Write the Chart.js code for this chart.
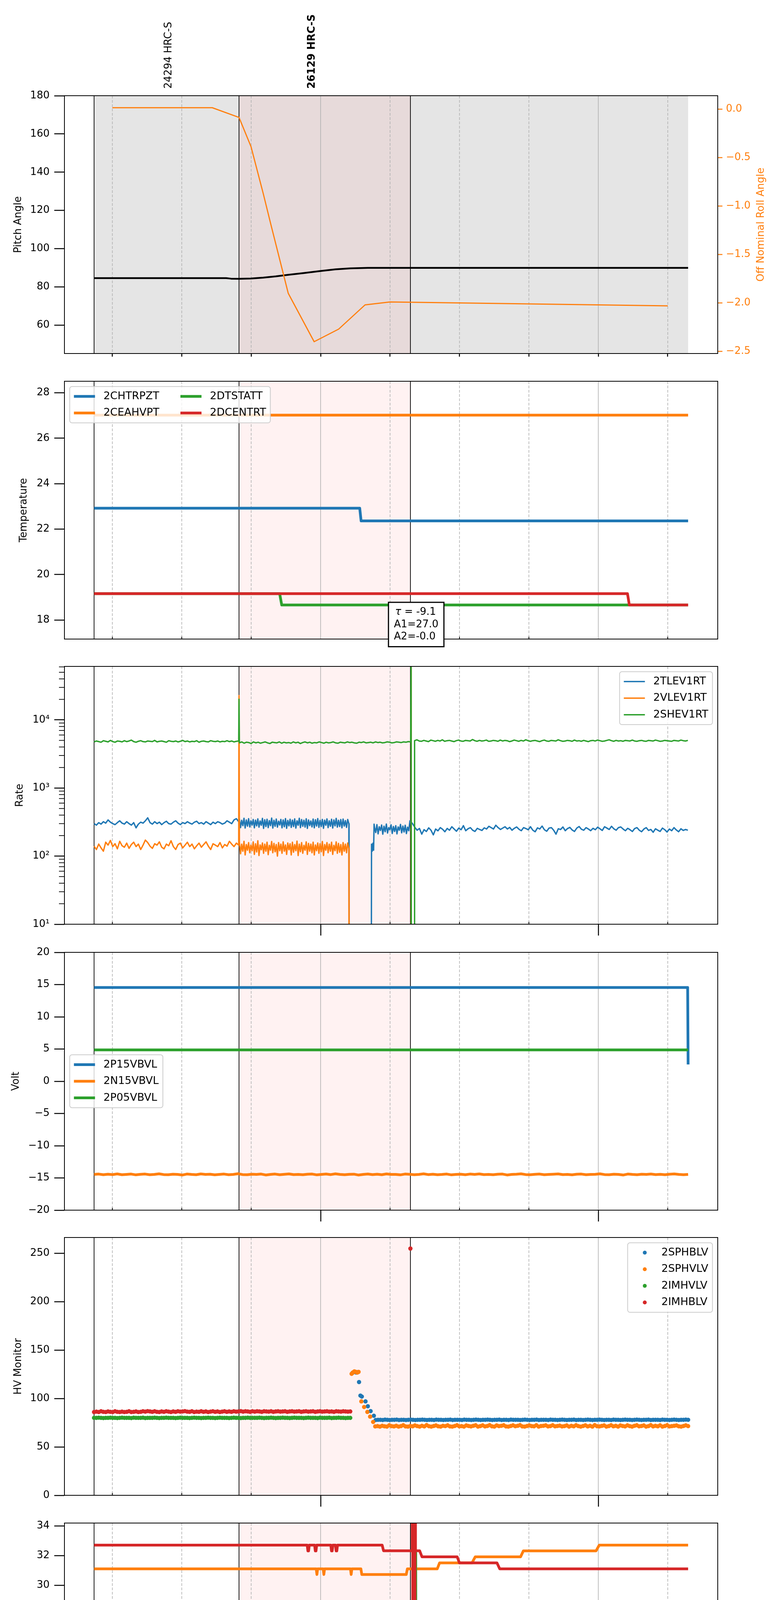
<!DOCTYPE html>
<html>
<head>
<meta charset="utf-8">
<title>HRC telemetry 2021-10-12</title>
<script src="https://cdn.jsdelivr.net/npm/chart.js@4.4.1/dist/chart.umd.min.js"></script>
<style>
  html, body { margin: 0; padding: 0; background: #fff; }
  #page { position: relative; width: 2000px; height: 5400px; overflow: hidden; background: #fff; }
  .panel { position: absolute; left: 0; width: 2000px; }
</style>
</head>
<body>
<div id="page"></div>
<script>
// Time axis: minutes after 17:00 UT on 2021-10-12 (DOY 285)
const xMin = 4.65;
const xMax = 145.8;
const tickMinutes = [15, 30, 45, 60, 75, 90, 105, 120, 135];
const obsidStarts = [11.05, 42.37, 79.4];
const obsidNames = ['24294 HRC-S', '26129 HRC-S'];
const obsidNameTimes = [27.2, 58.15];
const obsidNameBold = [false, true];
const grayWindow = [11.05, 139.4];
const pinkWindow = [42.37, 79.4];
const fitLines = ['τ = -9.1', 'A1=27.0', 'A2=-0.0'];

// ---- Panel 1: pitch / off nominal roll ----
const pitchTicks = [60, 80, 100, 120, 140, 160, 180];
const rollTicks = [0, -0.5, -1, -1.5, -2, -2.5];
const pitchTimes = [11.05, 39.6, 40.65, 42.37, 44.95, 47.6, 50.3, 53.0, 56.2, 60.0, 63.2, 66.4, 70.2, 139.4];
const pitchValues = [84.6, 84.6, 84.3, 84.25, 84.4, 84.85, 85.5, 86.3, 87.2, 88.3, 89.2, 89.7, 89.95, 89.95];
const rollTimes = [15.0, 36.6, 42.37, 44.95, 47.6, 49.25, 53.0, 58.6, 63.9, 69.6, 75.0, 135.0];
const rollValues = [0.015, 0.015, -0.085, -0.385, -0.87, -1.19, -1.9, -2.4, -2.27, -2.02, -1.99, -2.03];

// ---- Panel 2: temperatures ----
const tempTicks = [18, 20, 22, 24, 26, 28];
const chtrpztTimes = [11.05, 68.45, 68.75, 139.4];
const chtrpztValues = [22.92, 22.92, 22.36, 22.36];
const ceahvptTimes = [11.05, 139.4];
const ceahvptValues = [27.02, 27.02];
const dtstattTimes = [11.05, 51.15, 51.6, 139.4];
const dtstattValues = [19.16, 19.16, 18.66, 18.66];
const dcentrtTimes = [11.05, 126.3, 126.7, 139.4];
const dcentrtValues = [19.16, 19.16, 18.66, 18.66];

// ---- Panel 3: event rates (log) ----
const rateTicks = [10, 100, 1000, 10000];
const rateTickLabels = ['10\u00b9', '10\u00b2', '10\u00b3', '10\u2074'];
const tlevPre = [300, 285, 310, 295, 320, 305, 340, 315, 300, 290, 310, 330, 305, 295, 320, 300, 285, 310, 260, 295,
  315, 305, 330, 365, 310, 295, 320, 300, 315, 290, 310, 325, 300, 295, 315, 330, 305, 290, 310, 300,
  320, 305, 295, 315, 325, 300, 310, 295, 320, 305, 290, 315, 300, 320, 310, 295, 305, 330, 315, 300, 340, 355, 320];
const tlevDense = [350, 262, 335, 280, 360, 258, 340, 275, 355, 268, 330, 285, 345, 260, 338, 278, 352, 266, 328, 284,
  358, 255, 342, 272, 348, 262, 332, 280, 362, 258, 336, 274, 350, 266, 326, 286, 346, 260, 340, 270,
  356, 256, 334, 278, 348, 264, 338, 272, 352, 258, 330, 284, 360, 262, 344, 274, 336, 266, 354, 255,
  340, 280, 328, 268, 350, 260, 342, 276, 356, 264, 334, 272, 346, 256, 338, 284, 352, 262, 330, 274,
  348, 258, 340, 278, 358, 266, 336, 272, 344, 260, 350, 276, 332, 264, 346, 300];
const tlevGapTimes = [66.15, 70.95, 71.0, 71.15, 71.3, 71.45, 71.55];
const tlevGapValues = [1, 1, 150, 118, 155, 122, 295];
const tlevDense2 = [265, 222, 290, 212, 270, 238, 286, 210, 275, 228, 296, 218, 262, 244, 288, 215, 272, 230, 280, 212,
  268, 240, 292, 220, 276, 226, 284, 214, 266, 236, 330];
const tlevLate = [300, 265, 240, 255, 210, 245, 230, 260, 240, 205, 250, 235, 262, 248, 228, 255, 240, 270, 250, 232,
  258, 244, 280, 236, 252, 262, 240, 230, 256, 246, 238, 260, 250, 274, 262, 250, 284, 262, 246, 258,
  270, 250, 264, 240, 256, 268, 248, 236, 262, 254, 244, 270, 240, 228, 260, 250, 276, 244, 232, 258,
  262, 240, 210, 252, 246, 268, 236, 254, 264, 242, 230, 258, 272, 248, 240, 262, 250, 236, 256, 244,
  266, 252, 238, 270, 258, 246, 274, 252, 240, 262, 268, 250, 236, 256, 244, 230, 254, 262, 240, 228,
  250, 262, 238, 246, 224, 252, 240, 230, 258, 244, 226, 250, 236, 262, 242, 228, 252, 238, 246, 240];
const vlevPre = [140, 125, 150, 132, 118, 160, 145, 170, 138, 152, 128, 165, 142, 135, 155, 130, 148, 160, 138, 150,
  125, 145, 172, 158, 140, 130, 152, 145, 162, 135, 128, 150, 142, 168, 138, 125, 148, 155, 132, 145,
  160, 138, 150, 128, 142, 155, 135, 148, 162, 140, 125, 152, 145, 138, 158, 132, 148, 140, 165, 150, 138, 155, 145];
const vlevDense = [160, 108, 150, 118, 165, 104, 148, 122, 158, 112, 145, 120, 162, 106, 152, 115, 168, 102, 146, 124,
  156, 110, 150, 118, 160, 105, 144, 122, 164, 112, 154, 116, 148, 100, 158, 120, 150, 110, 162, 118,
  146, 106, 156, 124, 152, 104, 160, 114, 148, 120, 166, 102, 150, 116, 158, 110, 144, 122, 162, 106,
  154, 118, 150, 112, 160, 104, 146, 120, 156, 110, 152, 116, 164, 102, 148, 122, 158, 112, 150, 118,
  160, 106, 144, 120, 162, 110, 154, 114, 148, 104, 158, 118, 150, 112, 156, 130];
const vlevTailTimes = [66.15, 79.5, 79.55, 79.6, 139.4];
const vlevTailValues = [1, 1, 100000, 1, 1];
const shevPre = [4750, 4900, 4800, 4700, 4950, 4850, 4750, 5000, 4800, 4700, 4900, 4850, 4750, 4950, 4800, 4900, 5050, 4800, 4700, 4850,
  4950, 4800, 4750, 4900, 4850, 4800, 5000, 4750, 4850, 4900, 4800, 4700, 4950, 4850, 4800, 4900, 4750, 4850, 5000, 4800,
  4900, 4750, 4850, 4800, 4950, 4700, 4850, 4900, 4800, 4750, 4950, 4850, 4800, 4900, 4750, 4850, 4800, 4950, 4800, 4900, 4750, 4850, 4900];
const shevMid = [4600, 4750, 4550, 4700, 4650, 4500, 4750, 4600, 4700, 4550, 4650, 4750, 4600, 4500, 4700, 4650, 4600, 4750, 4550, 4700,
  4600, 4650, 4550, 4750, 4600, 4700, 4500, 4650, 4750, 4600, 4700, 4550, 4650, 4600, 4750, 4650, 4550, 4700, 4600, 4650,
  4750, 4600, 4550, 4700, 4650, 4600, 4750, 4650, 4700, 4600, 4550, 4700, 4650, 4750, 4600, 4650, 4700, 4600, 4750, 4650,
  4700, 4600, 4650, 4750, 4700, 4600, 4650, 4750, 4700, 4650, 4750, 4700, 4800, 4750];
const shevSpikeTimes = [42.37, 79.55, 79.6, 80.25];
const shevSpikeValues = [20100, 100000, 1, 1];
const shevLate = [4950, 5100, 4900, 4850, 5000, 4900, 4800, 5050, 4950, 4850, 5000, 4900, 5100, 4850, 4950, 5000, 4900, 4800, 4950, 5050,
  4900, 4850, 5000, 4950, 4900, 5150, 4950, 4850, 5000, 4900, 4950, 5050, 4850, 4900, 5000, 4950, 4850, 5050, 4900, 5000,
  4950, 4800, 4900, 5050, 4950, 4850, 5000, 4900, 5100, 4950, 4850, 4950, 5000, 4900, 4800, 4950, 5050, 4900, 4850, 5000,
  4950, 4900, 5100, 4950, 4850, 4900, 5000, 4950, 4850, 5050, 4900, 4950, 4850, 5000, 4900, 4800, 4950, 5000, 4900, 5050,
  4950, 4850, 4900, 5000, 5100, 4950, 4850, 5000, 4900, 4950, 4850, 5000, 4950, 4900, 5050, 4900, 4850, 4950, 5000, 4900,
  4850, 5000, 4950, 4900, 5050, 4950, 4850, 4900, 5000, 4950, 4900, 4850, 5000, 4950, 4900, 5050, 4950, 4900, 5000];

// ---- Panel 4: bus voltages ----
const voltTicks = [-20, -15, -10, -5, 0, 5, 10, 15, 20];
const p15Times = [11.05, 139.3, 139.4];
const p15Values = [14.54, 14.54, 2.6];
const n15Values = [-14.45, -14.4, -14.5, -14.42, -14.48, -14.38, -14.5, -14.45, -14.4, -14.52,
  -14.44, -14.4, -14.5, -14.46, -14.36, -14.48, -14.5, -14.42, -14.45, -14.55,
  -14.4, -14.46, -14.5, -14.38, -14.45, -14.42, -14.52, -14.46, -14.4, -14.5,
  -14.45, -14.35, -14.48, -14.5, -14.42, -14.45, -14.4, -14.54, -14.46, -14.4,
  -14.5, -14.44, -14.38, -14.48, -14.45, -14.5, -14.42, -14.4, -14.52, -14.46,
  -14.4, -14.48, -14.36, -14.45, -14.5, -14.44, -14.42, -14.55, -14.45, -14.4,
  -14.48, -14.42, -14.5, -14.38, -14.46, -14.45, -14.52, -14.4, -14.44, -14.5,
  -14.45, -14.36, -14.48, -14.42, -14.5, -14.46, -14.4, -14.52, -14.45, -14.42,
  -14.5, -14.4, -14.46, -14.38, -14.48, -14.45, -14.5, -14.42, -14.4, -14.54,
  -14.45, -14.42, -14.36, -14.48, -14.5, -14.44, -14.4, -14.5, -14.46, -14.42,
  -14.38, -14.48, -14.45, -14.52, -14.42, -14.4, -14.5, -14.46, -14.44, -14.36,
  -14.48, -14.5, -14.42, -14.45, -14.55, -14.4, -14.46, -14.5, -14.42, -14.45,
  -14.4, -14.48, -14.44, -14.5, -14.42, -14.38, -14.46, -14.5, -14.45];
const p05Times = [11.05, 139.4];
const p05Values = [4.87, 4.87];

// ---- Panel 5: HV monitors (points) ----
const hvTicks = [0, 50, 100, 150, 200, 250];
const imhvlvPre = [80, 80, 80.2, 80, 79.8, 80, 80, 80.2, 80, 80,
  79.8, 80, 80.2, 80, 80, 80, 79.8, 80.2, 80, 80,
  80, 80.2, 79.8, 80, 80, 80, 80.2, 80, 79.8, 80,
  80, 80.2, 80, 80, 80, 79.8, 80, 80.2, 80, 80,
  80, 79.8, 80, 80.2, 80, 80, 79.8, 80, 80, 80.2,
  80, 80, 79.8, 80, 80.2, 80, 80, 80, 79.8, 80,
  80.2, 80, 80, 79.8, 80, 80, 80.2, 80, 80, 80,
  80, 80.2, 80, 79.8, 80, 80, 80.2, 80, 79.8, 80,
  80, 80.2, 80, 80, 79.8, 80, 80.2, 80, 80, 80,
  79.8, 80, 80.2, 80, 80, 80, 79.8, 80.2, 80, 80,
  80, 80.2, 79.8, 80, 80, 80.2, 80, 80, 79.8, 80, 80];
const imhblvPre = [86, 86.4, 86, 86.8, 86.2, 86, 86.6, 86.2, 86, 86.8,
  86.2, 86, 86.4, 86, 86.2, 86.8, 86, 86.2, 86.6, 86,
  86.2, 86.8, 86.4, 87, 86.6, 86.2, 86.8, 86.2, 86, 86.6,
  86.2, 86.8, 86.4, 86, 86.6, 86.2, 86.8, 86.4, 86.6, 87,
  86.4, 86.2, 86.8, 86, 86.4, 86.2, 86.8, 86.2, 86.6, 86,
  86.4, 86.8, 86.2, 86.6, 86, 86.4, 86.8, 86.2, 86.6, 86.2,
  86.8, 86.4, 86.6, 87, 86.4, 86.8, 86.6, 86.2, 86.8, 86.4,
  86.8, 86.6, 86.2, 86.8, 86.6, 86.4, 86.8, 86.2, 86.6, 86.8,
  86.4, 86.6, 86.8, 86.2, 86.6, 86.8, 86.4, 86.6, 86.8, 86.2,
  86.6, 86.8, 86.4, 86.6, 86.8, 86.2, 86.6, 86.8, 86.4, 86.6,
  86.8, 86.4, 86.6, 86.2, 86.8, 86.6, 86.4, 86.8, 86.6, 86.4, 86.6];
const imhblvSpikeTimes = [79.4];
const imhblvSpikeValues = [254.9];
const sphblvTransTimes = [66.9, 67.3, 67.7, 68.0, 68.3, 68.6, 68.9, 69.7, 70.2, 70.8, 71.5];
const sphblvTransValues = [126.5, 127.5, 126.8, 127.2, 117, 103, 102, 97, 92, 87, 82.2];
const sphblvLate = [77.8, 78, 78, 77.8, 78.2, 78, 77.8, 78, 78, 78.2,
  77.8, 78, 78, 77.8, 78, 78.2, 78, 77.8, 78, 78,
  78.2, 78, 77.8, 78, 78, 77.8, 78.2, 78, 78, 77.8,
  78, 78, 78.2, 77.8, 78, 78, 78, 77.8, 78.2, 78,
  78, 77.8, 78, 78.2, 78, 77.8, 78, 78, 78.2, 78,
  77.8, 78, 78, 78.2, 77.8, 78, 78, 77.8, 78.2, 78,
  78, 78, 77.8, 78, 78.2, 78, 77.8, 78, 78, 78.2,
  77.8, 78, 78, 78, 77.8, 78.2, 78, 78, 77.8, 78,
  78.2, 78, 77.8, 78, 78, 78.2, 77.8, 78, 78, 77.8,
  78, 78.2, 78, 77.8, 78, 78, 78.2, 78, 77.8, 78,
  78, 77.8, 78.2, 78, 78, 77.8, 78, 78.2, 78, 78,
  77.8, 78, 78.2, 78, 77.8, 78, 78, 78.2, 77.8, 78,
  78, 78, 77.8, 78.2, 78, 78, 77.8, 78, 78.2, 78,
  77.8, 78, 78, 78.2, 78];
const sphvlvTransTimes = [66.7, 67.0, 67.3, 67.6, 67.9, 68.2, 68.8, 69.4, 70.1, 70.7, 71.35];
const sphvlvTransValues = [125.5, 127, 128, 127.5, 126.8, 127.5, 97, 91.2, 86.1, 81.3, 75.8];
const sphvlvLate = [71.2, 71.5, 71, 71.8, 71.3, 71, 72.3, 71.5, 71.2, 71.8,
  71, 71.5, 72.4, 71.2, 71, 71.6, 71.3, 72.2, 71.5, 71,
  71.8, 71.2, 72.5, 71.4, 71, 71.6, 72.2, 71.3, 71, 71.8,
  71.5, 72.3, 71.2, 71, 71.6, 72.4, 71.3, 71.5, 71, 72.2,
  71.6, 71.2, 71.8, 72.4, 71, 71.5, 72.3, 71.2, 71.6, 72.5,
  71.3, 71, 72.2, 71.5, 71.8, 72.4, 71.2, 71, 71.6, 72.3,
  71.4, 71.8, 72.5, 71.2, 71, 71.6, 72.2, 71.5, 71.3, 72.4,
  71, 71.6, 71.8, 72.3, 71.2, 71.5, 72.4, 71.3, 71.6, 72,
  71.2, 71.5, 72.2, 71, 71.8, 71.3, 72.4, 71.5, 71, 71.6,
  72.3, 71.2, 71.8, 71, 72.5, 71.4, 71.2, 71.7, 72.2, 71,
  71.5, 72.4, 71.3, 71.8, 71, 72.2, 71.6, 71.2, 72.3, 71.5,
  71, 71.8, 72.4, 71.3, 71.6, 72.2, 71, 71.5, 72.5, 71.2,
  71.8, 71.3, 72.3, 71, 71.6, 72.4, 71.2, 71.5, 71.8, 72.2,
  71.3, 71, 71.6, 72.3, 71.5];

// ---- Panel 6: detector temperatures ----
const detTicks = [18, 20, 22, 24, 26, 28, 30, 32, 34];
const spinatmTimes = [11.05, 80.4, 80.45, 80.55, 80.6, 139.4];
const spinatmValues = [18.29, 18.29, 18.9, 18.9, 18.29, 18.29];
const sphvatmTimes = [11.05, 59.05, 59.2, 59.35, 60.55, 60.7, 60.85, 66.45, 66.6, 66.75, 68.7, 68.9, 78.5, 78.75, 85.2, 85.7,
  92.7, 93.4, 103.2, 103.8, 119.5, 120.2, 139.4];
const sphvatmValues = [31.11, 31.11, 30.73, 31.11, 31.11, 30.73, 31.11, 31.11, 30.73, 31.11, 31.11, 30.73, 30.73, 31.11, 31.11, 31.51,
  31.51, 31.92, 31.92, 32.32, 32.32, 32.71, 32.71];
const iminatmTimes = [11.05, 52.9, 53.05, 53.3, 53.55, 53.8, 54.1, 54.4, 54.7, 55.0, 55.3, 55.6, 55.75, 80.4, 80.45, 80.55, 80.6, 139.4];
const iminatmValues = [19.61, 19.61, 18.94, 19.61, 18.94, 19.61, 18.94, 19.61, 18.94, 19.61, 18.94, 19.61, 18.94, 18.94, 32.2, 32.2, 18.94, 18.94];
const imhvatmTimes = [11.05, 57.1, 57.25, 57.4, 57.55, 58.7, 58.85, 59.0, 59.15, 62.2, 62.35, 62.5, 62.65, 63.2, 63.35, 63.5, 63.65,
  73.3, 73.6, 79.8, 79.85, 79.95, 80.05, 80.15, 80.25, 80.35, 80.45, 80.5, 81.4, 81.9, 89.5, 90.0, 98.1, 98.7, 139.4];
const imhvatmValues = [32.71, 32.71, 32.32, 32.32, 32.71, 32.71, 32.32, 32.32, 32.71, 32.71, 32.32, 32.32, 32.71, 32.71, 32.32, 32.32, 32.71,
  32.71, 32.33, 32.33, 60, 0, 60, 0, 60, 0, 60, 32.33, 32.33, 31.92, 31.92, 31.51, 31.51, 31.11, 31.11];

// ---- Panel 7: FEA temperatures ----
const feaTicks = [14, 16, 18, 20, 22];
const fhtrmztTimes = [11.05, 80.85, 81.05, 81.4, 81.6, 81.85, 82.3, 139.4];
const fhtrmztValues = [20.2, 20.2, 19.68, 19.68, 20.2, 20.2, 19.68, 19.68];
const fradpytTimes = [11.05, 28.7, 29.0, 29.3, 29.6, 64.4, 64.8, 65.7, 65.9, 66.1, 69.1, 69.35, 69.6, 73.5, 73.75, 74.0, 74.5, 74.75,
  75.0, 75.5, 75.75, 76.0, 76.4, 76.65, 76.9, 77.1, 77.35, 139.4];
const fradpytValues = [15.25, 15.25, 14.78, 15.25, 14.78, 14.78, 15.25, 15.25, 14.78, 15.25, 15.25, 14.78, 15.25, 15.25, 14.78, 15.25, 15.25, 14.78,
  15.25, 15.25, 14.78, 15.25, 15.25, 14.78, 15.25, 15.25, 14.78, 14.78];
const fepratmTimes = [11.05, 79.3, 79.35, 80.4, 80.45, 92.7, 93.45, 139.4];
const fepratmValues = [22.4, 22.4, 20.52, 20.52, 22.4, 22.4, 21.69, 21.69];
const fe00atmTimes = [11.05, 16.6, 17.3, 23.5, 23.75, 24.1, 46.4, 46.55, 46.7, 48.3, 48.45, 48.6, 50.7, 50.8, 50.9, 57.4, 57.5, 57.6,
  78.1, 78.25, 78.5, 78.65, 79.8, 79.85, 79.95, 80.05, 80.15, 80.25, 80.35, 80.45, 80.5, 104.3, 104.7, 105.1, 105.5, 105.7,
  106.1, 107.1, 107.5, 107.7, 108.1, 139.4];
const fe00atmValues = [20.79, 20.79, 20.48, 20.48, 21.13, 20.48, 20.48, 20.15, 20.48, 20.48, 20.83, 20.48, 20.48, 21.75, 20.48, 20.48, 20.83, 20.48,
  20.48, 20.15, 20.15, 20.48, 20.48, 40, 0, 40, 0, 40, 0, 40, 20.48, 20.48, 20.15, 20.15, 20.48, 20.48,
  20.15, 20.15, 20.48, 20.48, 20.17, 20.17];

// ---------------------------------------------------------------------------
const C = { blue: '#1f77b4', orange: '#ff7f0e', green: '#2ca02c', red: '#d62728', black: '#000000' };
const FONT = '"DejaVu Sans"';
Chart.defaults.font.family = FONT;
Chart.defaults.color = '#000';

function pts(times, values) {
  return times.map((t, i) => ({ x: t, y: values[i] }));
}
// stretch of evenly sampled telemetry between two times
function run(t0, t1, values) {
  const step = (t1 - t0) / (values.length - 1);
  return values.map((v, i) => ({ x: t0 + i * step, y: v }));
}
function line(label, color, data, width, yAxisID) {
  return { label, data, borderColor: color, backgroundColor: color, borderWidth: width, yAxisID: yAxisID || 'y',
    pointRadius: 0, tension: 0, fill: false, borderJoinStyle: 'round', borderCapStyle: 'butt' };
}
function dots(label, color, data) {
  return { label, data, showLine: false, borderColor: color, backgroundColor: color, pointBackgroundColor: color,
    pointBorderWidth: 0, pointRadius: 5.5, pointStyle: 'circle', yAxisID: 'y' };
}
const plain = v => String(v);
const signed = v => (v < 0 ? '\u2212' + Math.abs(v) : String(v));
const signed1 = v => (v < 0 ? '\u2212' : '') + Math.abs(v).toFixed(1);

const panels = [
  { top: 245, title: 'Pitch Angle', titleX: 47, yMin: 45.15, yMax: 180, yTicks: pitchTicks, yLabel: plain, xTicks: 'all',
    datasets: [
      line('Pitch', C.black, pts(pitchTimes, pitchValues), 4.5),
      line('Roll', C.orange, pts(rollTimes, rollValues), 3, 'y2')
    ] },
  { top: 976, title: 'Temperature', titleX: 61, yMin: 17.16, yMax: 28.51, yTicks: tempTicks, yLabel: plain, xTicks: 'none',
    legend: { loc: 'upper left', ncol: 2 }, fit: true,
    datasets: [
      line('2CHTRPZT', C.blue, pts(chtrpztTimes, chtrpztValues), 7),
      line('2CEAHVPT', C.orange, pts(ceahvptTimes, ceahvptValues), 7),
      line('2DTSTATT', C.green, pts(dtstattTimes, dtstattValues), 7),
      line('2DCENTRT', C.red, pts(dcentrtTimes, dcentrtValues), 7)
    ] },
  { top: 1706, title: 'Rate', titleX: 51, log: true, yMin: 10, yMax: 61000, yTicks: rateTicks,
    yLabel: v => rateTickLabels[rateTicks.indexOf(v)], xTicks: 'major', legend: { loc: 'upper right', ncol: 1 },
    datasets: [
      line('2TLEV1RT', C.blue, [...run(11.05, 42.3, tlevPre), ...run(42.45, 66.1, tlevDense), ...pts(tlevGapTimes, tlevGapValues),
        ...run(71.65, 79.3, tlevDense2), ...run(79.85, 139.35, tlevLate)], 3.5),
      line('2VLEV1RT', C.orange, [...run(11.05, 42.3, vlevPre), { x: 42.37, y: 22700 }, ...run(42.45, 66.1, vlevDense),
        ...pts(vlevTailTimes, vlevTailValues)], 3.5),
      line('2SHEV1RT', C.green, [...run(11.05, 42.3, shevPre), ...pts(shevSpikeTimes.slice(0, 1), shevSpikeValues.slice(0, 1)),
        ...run(42.45, 79.45, shevMid), ...pts(shevSpikeTimes.slice(1), shevSpikeValues.slice(1)), ...run(80.3, 139.35, shevLate)], 3.5)
    ] },
  { top: 2438, title: 'Volt', titleX: 41, yMin: -20, yMax: 20, yTicks: voltTicks, yLabel: signed, xTicks: 'major',
    legend: { loc: 'center left', ncol: 1 },
    datasets: [
      line('2P15VBVL', C.blue, pts(p15Times, p15Values), 7),
      line('2N15VBVL', C.orange, run(11.05, 139.4, n15Values), 7),
      line('2P05VBVL', C.green, pts(p05Times, p05Values), 7)
    ] },
  { top: 3168, title: 'HV Monitor', titleX: 47, yMin: 0, yMax: 266.3, yTicks: hvTicks, yLabel: plain, xTicks: 'major',
    legend: { loc: 'upper right', ncol: 1, marker: 'dot' },
    datasets: [
      dots('2SPHBLV', C.blue, [...pts(sphblvTransTimes, sphblvTransValues), ...run(71.9, 139.4, sphblvLate)]),
      dots('2SPHVLV', C.orange, [...pts(sphvlvTransTimes, sphvlvTransValues), ...run(71.8, 139.4, sphvlvLate)]),
      dots('2IMHVLV', C.green, run(11.05, 66.4, imhvlvPre)),
      dots('2IMHBLV', C.red, [...run(11.05, 66.4, imhblvPre), ...pts(imhblvSpikeTimes, imhblvSpikeValues)])
    ] },
  { top: 3899, title: 'Detector Temp', titleX: 64, yMin: 16.81, yMax: 34.2, yTicks: detTicks, yLabel: plain, xTicks: 'major',
    legend: { loc: 'center right', ncol: 1 },
    datasets: [
      line('2SPINATM', C.blue, pts(spinatmTimes, spinatmValues), 7),
      line('2SPHVATM', C.orange, pts(sphvatmTimes, sphvatmValues), 7),
      line('2IMINATM', C.green, pts(iminatmTimes, iminatmValues), 7),
      line('2IMHVATM', C.red, pts(imhvatmTimes, imhvatmValues), 7)
    ] },
  { top: 4629, title: 'FEA Temp', titleX: 61, yMin: 13.28, yMax: 23.9, yTicks: feaTicks, yLabel: plain, xTicks: 'major',
    legend: { loc: 'center left', ncol: 1 },
    datasets: [
      line('2FHTRMZT', C.blue, pts(fhtrmztTimes, fhtrmztValues), 7),
      line('2FRADPYT', C.orange, pts(fradpytTimes, fradpytValues), 7),
      line('2FEPRATM', C.green, pts(fepratmTimes, fepratmValues), 7),
      line('2FE00ATM', C.red, pts(fe00atmTimes, fe00atmValues), 7)
    ] }
];

const PLOT_H = 660;
const LEFT_W = 165;
const RIGHT_W = 162;

function shade(ctx, x, a, win, color) {
  const x0 = x.getPixelForValue(win[0]);
  const x1 = x.getPixelForValue(win[1]);
  ctx.fillStyle = color;
  ctx.fillRect(x0, a.top, x1 - x0, a.bottom - a.top);
}

// matplotlib-like legend inside the axes
function drawLegend(chart, spec) {
  const { ctx, chartArea: a } = chart;
  const fs = 27, pad = 0.4 * fs, hl = 2 * fs, htp = 0.8 * fs, cs = 2 * fs, th = 29, ls = 0.5 * fs, gap = 0.5 * fs;
  const items = chart.data.datasets.map(d => ({ label: d.label, color: d.borderColor, width: d.borderWidth }));
  const nrow = Math.ceil(items.length / spec.ncol);
  const cols = [];
  for (let c = 0; c < spec.ncol; c++) cols.push(items.slice(c * nrow, (c + 1) * nrow));
  ctx.save();
  ctx.font = fs + 'px ' + FONT;
  const colW = cols.map(col => Math.max(...col.map(it => ctx.measureText(it.label).width)));
  const w = 2 * pad + colW.reduce((s, cw) => s + hl + htp + cw, 0) + (spec.ncol - 1) * cs;
  const h = 2 * pad + nrow * th + (nrow - 1) * ls;
  const x0 = spec.loc.includes('left') ? a.left + gap : a.right - gap - w;
  const y0 = spec.loc.includes('upper') ? a.top + gap : (a.top + a.bottom) / 2 - h / 2;
  ctx.beginPath();
  ctx.roundRect(x0, y0, w, h, 6);
  ctx.fillStyle = 'rgba(255,255,255,0.8)';
  ctx.fill();
  ctx.lineWidth = 2;
  ctx.strokeStyle = '#cccccc';
  ctx.stroke();
  let cx = x0 + pad;
  cols.forEach((col, c) => {
    col.forEach((it, r) => {
      const cy = y0 + pad + r * (th + ls) + th / 2;
      if (spec.marker === 'dot') {
        ctx.beginPath();
        ctx.arc(cx + hl / 2 + 6, cy, 5, 0, Math.PI * 2);
        ctx.fillStyle = it.color;
        ctx.fill();
      } else {
        ctx.beginPath();
        ctx.moveTo(cx, cy);
        ctx.lineTo(cx + hl, cy);
        ctx.lineWidth = it.width;
        ctx.strokeStyle = it.color;
        ctx.stroke();
      }
      ctx.fillStyle = '#000';
      ctx.textAlign = 'left';
      ctx.textBaseline = 'middle';
      ctx.fillText(it.label, cx + hl + htp, cy);
    });
    cx += hl + htp + colW[c] + cs;
  });
  ctx.restore();
}

function drawFitBox(chart) {
  const { ctx, chartArea: a } = chart;
  const bx = a.left + 0.496 * (a.right - a.left);
  const by = a.top + 0.8575 * (a.bottom - a.top);
  const lh = 31.2, padX = 14, padY = 10;
  ctx.save();
  ctx.font = '26px ' + FONT;
  const w = Math.max(...fitLines.map(s => ctx.measureText(s).width)) + 2 * padX;
  const h = fitLines.length * lh + 2 * padY;
  ctx.fillStyle = '#fff';
  ctx.fillRect(bx, by, w, h);
  ctx.lineWidth = 3;
  ctx.strokeStyle = '#000';
  ctx.strokeRect(bx, by, w, h);
  ctx.fillStyle = '#000';
  ctx.textBaseline = 'middle';
  ctx.textAlign = 'left';
  fitLines.forEach((s, i) => {
    const y = by + padY + lh * (i + 0.5);
    let x = bx + padX;
    if (s.startsWith('τ')) {
      ctx.font = 'italic 26px ' + FONT;
      ctx.fillText('τ', x + 3, y);
      x += ctx.measureText('τ').width + 3;
      ctx.font = '26px ' + FONT;
      ctx.fillText(s.slice(1), x, y);
    } else {
      ctx.fillText(s, x, y);
    }
  });
  ctx.restore();
}

function makeFurniture(p, isFirst) {
  return {
    id: 'furniture',
    beforeDraw(chart) {
      const { ctx, chartArea: a, scales } = chart;
      ctx.save();
      if (isFirst) shade(ctx, scales.x, a, grayWindow, 'rgba(0,0,0,0.1)');
      shade(ctx, scales.x, a, pinkWindow, 'rgba(255,0,0,0.05)');
      ctx.restore();
    },
    beforeDatasetsDraw(chart) {
      const { ctx, chartArea: a, scales } = chart;
      ctx.save();
      ctx.strokeStyle = '#b0b0b0';
      ctx.lineWidth = 1.6;
      tickMinutes.forEach(m => {
        const px = scales.x.getPixelForValue(m);
        ctx.setLineDash(m % 60 === 0 ? [] : [7, 4]);
        ctx.beginPath();
        ctx.moveTo(px, a.top);
        ctx.lineTo(px, a.bottom);
        ctx.stroke();
      });
      ctx.setLineDash([]);
      ctx.strokeStyle = '#000';
      ctx.lineWidth = 1.8;
      obsidStarts.forEach(t => {
        const px = scales.x.getPixelForValue(t);
        ctx.beginPath();
        ctx.moveTo(px, a.top);
        ctx.lineTo(px, a.bottom);
        ctx.stroke();
      });
      ctx.restore();
    },
    afterDatasetsDraw(chart) {
      const { ctx, chartArea: a, scales } = chart;
      ctx.save();
      ctx.strokeStyle = '#000';
      if (!isFirst) {
        ctx.lineWidth = 2;
        tickMinutes.filter(m => m % 60 !== 0).forEach(m => {
          const px = scales.x.getPixelForValue(m);
          ctx.beginPath();
          ctx.moveTo(px, a.bottom);
          ctx.lineTo(px, a.bottom - 6);
          ctx.stroke();
        });
      }
      if (p.log) {
        ctx.lineWidth = 1.8;
        [10, 100, 1000, 10000].forEach(d => {
          for (let k = 2; k <= 9; k++) {
            const v = k * d;
            if (v > p.yMax) continue;
            const py = scales.y.getPixelForValue(v);
            ctx.beginPath();
            ctx.moveTo(a.left - 14, py);
            ctx.lineTo(a.left, py);
            ctx.stroke();
          }
        });
      }
      ctx.lineWidth = 2;
      ctx.strokeRect(a.left, a.top, a.right - a.left, a.bottom - a.top);
      ctx.restore();
    },
    afterDraw(chart) {
      const { ctx, chartArea: a, scales } = chart;
      if (p.legend) drawLegend(chart, p.legend);
      if (p.fit) drawFitBox(chart);
      if (isFirst) {
        ctx.save();
        ctx.fillStyle = '#000';
        ctx.textAlign = 'left';
        ctx.textBaseline = 'middle';
        obsidNames.forEach((name, i) => {
          const px = scales.x.getPixelForValue(obsidNameTimes[i]);
          ctx.save();
          ctx.translate(px, a.top - 18);
          ctx.rotate(-Math.PI / 2);
          ctx.font = (obsidNameBold[i] ? 'bold ' : '') + '26px ' + FONT;
          ctx.fillText(name, 0, 0);
          ctx.restore();
        });
        ctx.translate(1949, (a.top + a.bottom) / 2);
        ctx.rotate(-Math.PI / 2);
        ctx.textAlign = 'center';
        ctx.font = '26px ' + FONT;
        ctx.fillStyle = C.orange;
        ctx.fillText('Off Nominal Roll Angle', 0, 0);
        ctx.restore();
      }
    }
  };
}

function makePanel(p, index) {
  const isFirst = index === 0;
  const isLast = index === panels.length - 1;
  const padTop = isFirst ? p.top : 30;
  const divTop = p.top - padTop;
  const xHeight = isLast ? 5400 - divTop - padTop - PLOT_H : 40;
  const height = padTop + PLOT_H + xHeight;

  const div = document.createElement('div');
  div.className = 'panel';
  div.style.top = divTop + 'px';
  div.style.height = height + 'px';
  const canvas = document.createElement('canvas');
  canvas.width = 2000;
  canvas.height = height;
  canvas.style.width = '2000px';
  canvas.style.height = height + 'px';
  div.appendChild(canvas);
  document.getElementById('page').appendChild(div);

  const isMajor = c => c.tick && c.tick.value % 60 === 0;
  const scales = {
    x: {
      type: 'linear', min: xMin, max: xMax,
      afterBuildTicks: s => { s.ticks = tickMinutes.map(v => ({ value: v })); },
      afterFit: s => { s.height = xHeight; },
      grid: {
        drawOnChartArea: false,
        drawTicks: p.xTicks !== 'none',
        tickLength: p.xTicks === 'all' ? 8 : 29,
        tickWidth: 2.5,
        tickColor: c => (p.xTicks === 'all' || isMajor(c)) ? '#000' : 'rgba(0,0,0,0)'
      },
      border: { display: false },
      ticks: {
        display: isLast, autoSkip: false, maxRotation: 0, minRotation: 0, padding: -26, color: '#000',
        font: c => ({ size: isMajor(c) ? 27 : 18 }),
        callback: v => (v % 60 === 0 ? ['', (17 + v / 60) + 'h'] : String(v % 60))
      },
      title: { display: isLast, text: '2021-10-12 (285)', color: '#000', font: { size: 33 }, padding: { top: 0, bottom: 3 } }
    },
    y: {
      type: p.log ? 'logarithmic' : 'linear', position: 'left', min: p.yMin, max: p.yMax,
      afterBuildTicks: s => { s.ticks = p.yTicks.map(v => ({ value: v })); },
      afterFit: s => { s.width = LEFT_W; },
      grid: { drawOnChartArea: false, drawTicks: true, tickLength: 26, tickWidth: 2.5, tickColor: '#000' },
      border: { display: false },
      ticks: { autoSkip: false, padding: 12, color: '#000', font: { size: 26 }, callback: p.yLabel },
      title: { display: true, text: p.title, color: '#000', font: { size: 26 }, padding: { top: p.titleX - 15.6, bottom: 0 } }
    }
  };
  if (isFirst) {
    scales.y2 = {
      type: 'linear', position: 'right', min: -2.522, max: 0.139,
      afterBuildTicks: s => { s.ticks = rollTicks.map(v => ({ value: v })); },
      afterFit: s => { s.width = RIGHT_W; },
      grid: { drawOnChartArea: false, drawTicks: true, tickLength: 12, tickWidth: 2.5, tickColor: C.orange },
      border: { display: false },
      ticks: { autoSkip: false, padding: 9, color: C.orange, font: { size: 26 }, callback: signed1 }
    };
  }

  // later series are drawn on top, as in the original plot
  p.datasets.forEach((d, i) => { d.order = -i; });

  new Chart(canvas, {
    type: 'line',
    data: { datasets: p.datasets },
    options: {
      responsive: false,
      devicePixelRatio: 1,
      animation: false,
      events: [],
      layout: { padding: { top: padTop, left: 0, right: isFirst ? 0 : RIGHT_W, bottom: 0 }, autoPadding: false },
      plugins: { legend: { display: false }, tooltip: { enabled: false }, title: { display: false } },
      scales
    },
    plugins: [makeFurniture(p, isFirst)]
  });
}

panels.forEach(makePanel);
</script>
</body>
</html>
